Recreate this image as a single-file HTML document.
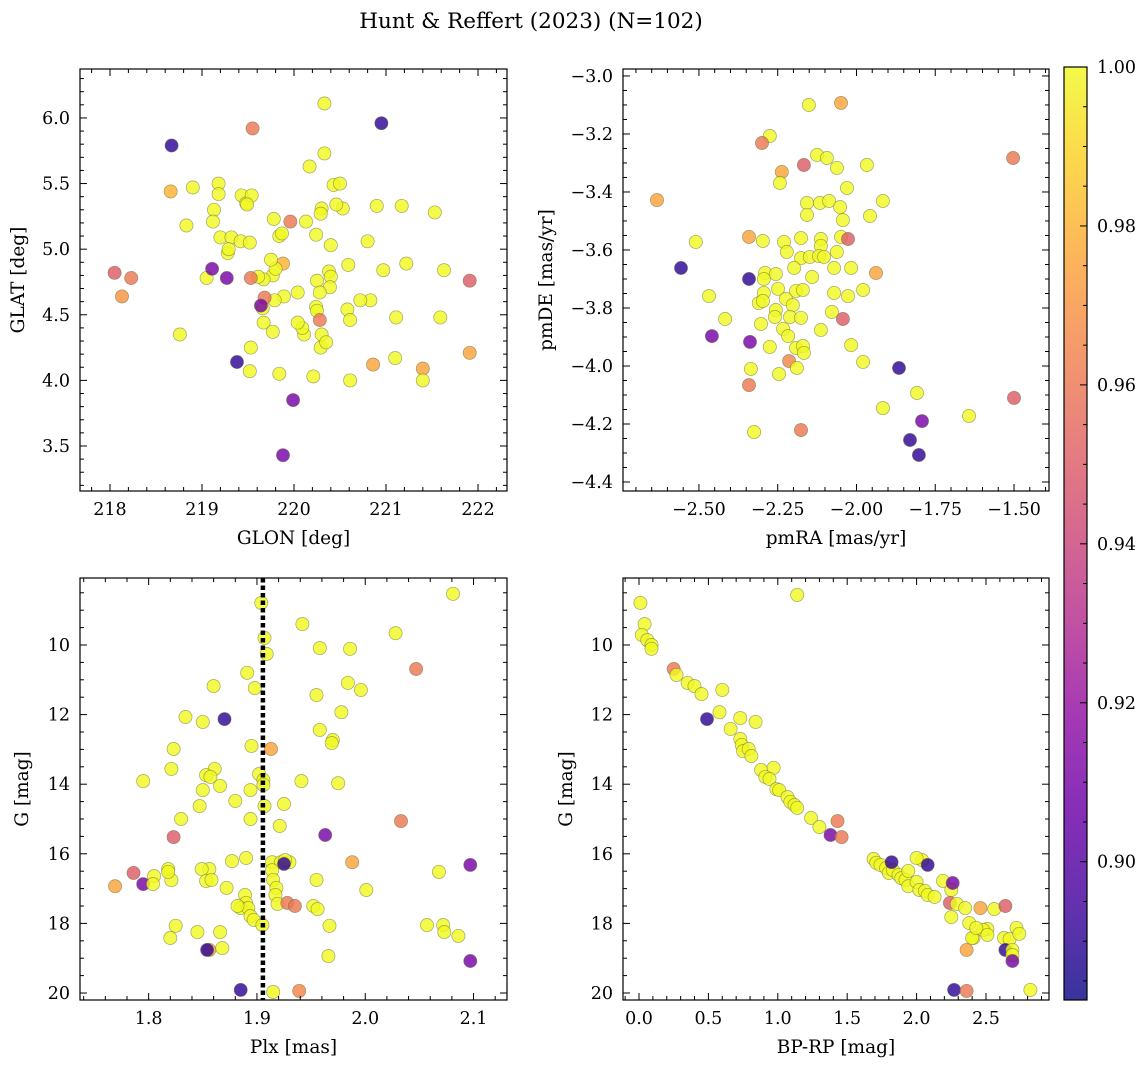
<!DOCTYPE html>
<html><head><meta charset="utf-8"><style>
html,body{margin:0;padding:0;background:#fff}
svg{display:block}
text{font-family:"DejaVu Serif","Liberation Serif",serif;fill:#000}
</style></head><body>
<svg id="chart" width="1148" height="1067" viewBox="0 0 1148 1067" xmlns="http://www.w3.org/2000/svg">
<defs>
<linearGradient id="cbgrad" x1="0" y1="1" x2="0" y2="0">
<stop offset="0" stop-color="#0d0887"/><stop offset="0.1" stop-color="#41049d"/><stop offset="0.2" stop-color="#6a00a8"/><stop offset="0.3" stop-color="#8f0da4"/><stop offset="0.4" stop-color="#b12a90"/><stop offset="0.5" stop-color="#cc4778"/><stop offset="0.6" stop-color="#e16462"/><stop offset="0.7" stop-color="#f2844b"/><stop offset="0.8" stop-color="#fca636"/><stop offset="0.9" stop-color="#fcce25"/><stop offset="1" stop-color="#f0f921"/>
</linearGradient>
</defs>
<text x="531" y="28" font-size="21.5" text-anchor="middle">Hunt &amp; Reffert (2023) (N=102)</text>
</svg>
<script>
// ---------- data ----------
const p1Lon=[218.67,219.55,220.95,220.33,218.66,218.90,218.83,219.13,219.18,219.18,219.12,219.20,219.32,219.43,219.48,219.54,219.49,219.42,219.52,219.28,219.78,219.84,219.87,219.88,219.96,220.17,220.33,220.43,220.50,220.53,220.46,220.30,220.29,220.13,220.24,220.40,220.59,220.80,220.90,221.17,220.97,221.22,221.53,221.63,221.91,221.91,221.40,221.40,221.59,221.11,221.10,220.86,220.61,220.21,220.83,220.72,220.58,220.61,220.38,220.40,220.25,220.39,220.28,220.24,220.25,220.28,220.30,220.29,220.35,220.11,220.09,220.04,220.04,219.89,219.77,219.80,219.75,219.67,219.61,219.53,219.66,219.67,219.77,219.79,219.68,219.64,219.53,219.52,219.84,219.38,219.05,219.11,219.27,219.29,218.76,218.05,218.23,218.13,219.99,219.88];
const p1Lat=[5.79,5.92,5.96,6.11,5.44,5.47,5.18,5.30,5.50,5.42,5.21,5.09,5.09,5.41,5.35,5.41,5.34,5.06,5.05,4.97,5.23,5.10,5.12,4.89,5.21,5.63,5.73,5.49,5.50,5.31,5.34,5.31,5.27,5.21,5.11,5.03,4.88,5.06,5.33,5.33,4.84,4.89,5.28,4.84,4.76,4.21,4.09,4.00,4.48,4.48,4.17,4.12,4.00,4.03,4.61,4.61,4.54,4.46,4.83,4.79,4.76,4.71,4.67,4.56,4.53,4.46,4.35,4.25,4.29,4.35,4.40,4.44,4.67,4.64,4.80,4.85,4.92,4.77,4.79,4.78,4.55,4.44,4.37,4.61,4.63,4.57,4.25,4.07,4.05,4.14,4.78,4.85,4.78,5.00,4.35,4.82,4.78,4.64,3.85,3.43];
const p1Prob=[.89,.96,.89,1,.98,1,1,1,1,1,1,1,1,1,1,1,1,1,1,1,1,1,1,.98,.96,1,1,1,1,1,1,1,1,1,1,1,1,1,1,1,1,1,1,1,.95,.975,.975,1,1,1,1,.975,1,1,1,1,1,1,1,1,1,1,1,1,1,.96,1,1,1,1,1,1,1,1,1,1,1,1,1,.96,1,1,1,1,.96,.91,1,1,1,.89,1,.91,.91,1,1,.95,.96,.97,.91,.91];

const p2PmRA=[-1.503,-1.500,-2.633,-2.510,-2.557,-2.468,-2.417,-2.459,-2.325,-2.176,-1.916,-1.830,-1.808,-1.802,-1.792,-1.643,-2.341,-2.341,-2.297,-2.230,-2.176,-2.113,-2.049,-2.027,-2.221,-2.113,-2.176,-2.148,-2.119,-2.103,-2.062,-2.198,-2.141,-2.071,-2.017,-1.938,-2.341,-2.290,-2.256,-2.294,-2.249,-2.192,-2.170,-2.071,-2.027,-1.979,-2.294,-2.310,-2.297,-2.224,-2.202,-2.256,-2.259,-2.211,-2.176,-2.078,-2.043,-2.303,-2.233,-2.217,-2.113,-2.338,-2.275,-2.192,-2.170,-2.167,-2.017,-1.979,-2.214,-2.189,-2.335,-2.246,-1.865,-2.151,-2.049,-2.275,-2.300,-2.125,-2.094,-2.167,-2.062,-1.967,-2.237,-2.243,-2.030,-2.157,-2.116,-2.087,-2.052,-1.916,-2.157,-2.043,-1.957];
const p2PmDE=[-3.283,-4.110,-3.428,-3.572,-3.662,-3.759,-3.838,-3.897,-4.228,-4.221,-4.145,-4.255,-4.093,-4.307,-4.190,-4.172,-4.066,-3.555,-3.569,-3.572,-3.559,-3.562,-3.555,-3.562,-3.607,-3.586,-3.628,-3.624,-3.621,-3.624,-3.607,-3.662,-3.693,-3.662,-3.662,-3.679,-3.700,-3.679,-3.683,-3.700,-3.734,-3.741,-3.738,-3.748,-3.759,-3.738,-3.748,-3.783,-3.776,-3.769,-3.790,-3.807,-3.831,-3.831,-3.834,-3.814,-3.838,-3.855,-3.872,-3.897,-3.876,-3.917,-3.934,-3.938,-3.931,-3.955,-3.928,-3.986,-3.983,-4.007,-4.010,-4.028,-4.007,-3.100,-3.093,-3.207,-3.231,-3.272,-3.283,-3.307,-3.317,-3.307,-3.331,-3.369,-3.386,-3.438,-3.438,-3.431,-3.452,-3.431,-3.479,-3.497,-3.483];
const p2Prob=[.96,.95,.975,1,.89,1,1,.91,1,.96,1,.89,1,.89,.91,1,.96,.975,1,1,1,1,1,.95,1,1,1,1,1,1,1,1,1,1,1,.975,.89,1,1,1,1,1,1,1,1,1,1,1,1,1,1,1,1,1,1,1,.95,1,1,1,1,.91,1,1,1,1,1,1,.965,1,1,1,.89,1,.975,1,.96,1,1,.95,1,1,.975,1,1,1,1,1,1,1,1,1,1];

const p3Plx=[2.081,1.904,1.907,1.909,1.942,2.028,1.986,1.958,2.047,1.891,1.898,1.860,1.984,1.996,1.955,1.834,1.850,1.978,1.958,1.970,1.969,1.870,1.913,1.895,1.795,1.823,1.821,1.861,1.853,1.857,1.902,1.906,1.906,1.866,1.850,1.941,1.975,1.880,1.894,1.907,1.847,1.925,1.830,1.894,1.823,1.921,1.963,2.033,1.890,1.877,1.856,1.849,1.853,1.858,1.872,1.818,1.821,1.805,1.818,1.786,1.795,1.804,1.769,1.914,1.922,1.930,1.926,1.925,1.914,1.915,1.918,1.917,1.919,1.928,1.935,1.955,1.952,1.988,2.001,2.068,2.097,1.889,1.890,1.885,1.892,1.894,1.897,1.882,1.905,1.967,1.956,1.825,1.820,1.845,1.866,1.868,1.856,1.854,1.966,2.057,2.072,2.073,2.086,2.097,1.885,1.939,1.915];
const p3G=[8.53,8.79,9.80,10.26,9.40,9.66,10.11,10.09,10.69,10.80,11.24,11.18,11.09,11.29,11.44,12.07,12.21,11.93,12.44,12.73,12.82,12.13,12.99,12.90,13.91,12.99,13.56,13.56,13.74,13.79,13.71,13.88,14.02,14.05,14.17,13.91,13.97,14.48,14.17,14.63,14.63,14.57,15.00,15.00,15.52,15.20,15.46,15.06,16.12,16.21,16.44,16.44,16.78,16.75,16.98,16.44,16.76,16.64,16.52,16.55,16.87,16.87,16.93,16.24,16.24,16.24,16.18,16.29,16.47,16.75,16.98,17.18,17.44,17.41,17.50,16.75,17.50,16.24,17.04,16.52,16.32,17.18,17.41,17.56,17.56,17.79,17.90,17.50,18.05,18.07,17.59,18.07,18.42,18.25,18.25,18.71,18.76,18.76,18.94,18.05,18.05,18.25,18.36,19.08,19.91,19.94,19.97];
const p3Prob=[1,1,1,1,1,1,1,1,.96,1,1,1,1,1,1,1,1,1,1,1,1,.89,.975,1,1,1,1,1,1,1,1,1,1,1,1,1,1,1,1,1,1,1,1,1,.95,1,.91,.96,1,1,1,1,1,1,1,1,1,1,1,.95,.91,1,.975,1,1,1,1,.89,1,1,1,1,1,.96,.96,1,1,.975,1,1,.91,1,1,1,1,1,1,1,1,1,1,1,1,1,1,1,.975,.89,1,1,1,1,1,.91,.89,.965,1];
const p3PlxRef=[1.9055];

const p4BpRp=[0.01,0.04,0.02,0.06,0.09,0.09,0.25,0.27,0.35,0.40,0.45,0.60,1.14,0.49,0.58,0.66,0.73,0.84,0.73,0.74,0.75,0.79,0.81,0.88,0.97,0.91,0.94,0.99,1.01,1.07,1.09,1.12,1.14,1.24,1.30,1.38,1.43,1.46,1.69,1.71,1.74,1.78,1.80,1.83,1.82,1.87,1.89,1.92,1.94,1.94,2.00,2.02,2.04,2.00,2.08,2.06,2.08,2.13,2.19,2.25,2.26,2.24,2.25,2.29,2.35,2.38,2.36,2.41,2.46,2.51,2.48,2.51,2.56,2.64,2.63,2.67,2.64,2.69,2.69,2.69,2.72,2.74,2.82,2.27,2.36,2.40,2.43];
const p4G=[8.79,9.40,9.71,9.86,10.00,10.11,10.69,10.86,11.09,11.18,11.41,11.29,8.56,12.13,11.93,12.41,12.10,12.21,12.70,12.87,13.05,12.99,13.19,13.59,13.53,13.79,13.85,14.14,14.17,14.37,14.51,14.60,14.68,14.97,15.23,15.46,15.06,15.52,16.15,16.26,16.32,16.41,16.55,16.47,16.24,16.61,16.70,16.75,16.49,16.93,16.81,17.04,16.18,16.12,16.32,17.07,17.18,17.24,16.78,17.04,16.84,17.41,17.82,17.44,17.56,17.99,18.76,18.42,17.56,18.16,18.19,18.33,17.59,17.50,18.42,18.45,18.76,18.76,18.91,19.08,18.13,18.30,19.91,19.91,19.94,18.42,18.13];
const p4Prob=[1,1,1,1,1,1,.96,1,1,1,1,1,1,.89,1,1,1,1,1,1,1,1,1,1,1,1,1,1,1,1,1,1,1,1,1,.91,.96,.96,1,1,1,1,1,1,.89,1,1,1,1,1,1,1,1,1,.89,1,1,1,1,1,.91,.95,1,1,1,1,.975,1,.975,1,1,1,1,.95,1,1,.89,1,1,.91,1,1,1,.89,.96,1,1];

const p1XTicks=[218,219,220,221,222], p1YTicks=[3.5,4.0,4.5,5.0,5.5,6.0];
const p2XTicks=[-2.50,-2.25,-2.00,-1.75,-1.50], p2YTicks=[-4.4,-4.2,-4.0,-3.8,-3.6,-3.4,-3.2,-3.0];
const p3XTicks=[1.8,1.9,2.0,2.1], gTicks=[10,12,14,16,18,20];
const p4XTicks=[0.0,0.5,1.0,1.5,2.0,2.5];
const cbTicks=[0.90,0.92,0.94,0.96,0.98,1.00];
const cbMin=0.8826, cbMax=1.0;

// ---------- helpers ----------
const NS='http://www.w3.org/2000/svg';
const svg=document.getElementById('chart');
function mk(tag,attrs,parent){const e=document.createElementNS(NS,tag);for(const k in attrs)e.setAttribute(k,attrs[k]);(parent||svg).appendChild(e);return e;}
const stops=[[13,8,135],[65,4,157],[106,0,168],[143,13,164],[177,42,144],[204,71,120],[225,100,98],[242,132,75],[252,166,54],[252,206,37],[240,249,33]];
function plasma(p){let t=(p-cbMin)/(cbMax-cbMin);t=Math.max(0,Math.min(1,t))*10;const i=Math.min(9,Math.floor(t)),f=t-i;const a=stops[i],b=stops[i+1];return 'rgb('+a.map((v,k)=>Math.round(v+(b[k]-v)*f)).join(',')+')';}
function fmt(v,d){return (v<0?'\u2212':'')+Math.abs(v).toFixed(d);}
const TICKFS=17.5, LABFS=18.5;

function panel(cfg){
  const g=mk('g',{});
  
  
  const {l,t,r,b}=cfg.box;
  const sx=v=>l+(v-cfg.xlim[0])/(cfg.xlim[1]-cfg.xlim[0])*(r-l);
  const sy=cfg.yinv?(v=>t+(v-cfg.ylim[0])/(cfg.ylim[1]-cfg.ylim[0])*(b-t)):(v=>b-(v-cfg.ylim[0])/(cfg.ylim[1]-cfg.ylim[0])*(b-t));
  for(let i=0;i<cfg.xs.length;i++){
    const c=mk('circle',{cx:sx(cfg.xs[i]).toFixed(1),cy:sy(cfg.ys[i]).toFixed(1),r:6.6,fill:plasma(cfg.ps[i]),'fill-opacity':0.82,stroke:'#6b6b3a','stroke-opacity':0.6,'stroke-width':0.7},g);
    
    
  }
  if(cfg.vline){
    const ln=mk('line',{x1:sx(cfg.vline),x2:sx(cfg.vline),y1:t,y2:b,stroke:'#000','stroke-width':4.5,'stroke-dasharray':'4.5 3'},g);
    
    
  }
  const fr=mk('rect',{x:l,y:t,width:r-l,height:b-t,fill:'none',stroke:'#000','stroke-width':1.2},g);
  
  
  const minorX=cfg.xminor, minorY=cfg.yminor;
  const x0=Math.ceil(cfg.xlim[0]/minorX-1e-6), x1=Math.floor(cfg.xlim[1]/minorX+1e-6);
  for(let k=x0;k<=x1;k++){const v=k*minorX,x=sx(v);const maj=cfg.xt.some(m=>Math.abs(m-v)<1e-6);const L=maj?7:4;
    mk('line',{x1:x,x2:x,y1:b,y2:b-L,stroke:'#000','stroke-width':1},g);mk('line',{x1:x,x2:x,y1:t,y2:t+L,stroke:'#000','stroke-width':1},g);}
  const ya=Math.min(cfg.ylim[0],cfg.ylim[1]),yb=Math.max(cfg.ylim[0],cfg.ylim[1]);
  const y0=Math.ceil(ya/minorY-1e-6), y1=Math.floor(yb/minorY+1e-6);
  for(let k=y0;k<=y1;k++){const v=k*minorY,y=sy(v);const maj=cfg.yt.some(m=>Math.abs(m-v)<1e-6);const L=maj?7:4;
    mk('line',{x1:l,x2:l+L,y1:y,y2:y,stroke:'#000','stroke-width':1},g);mk('line',{x1:r,x2:r-L,y1:y,y2:y,stroke:'#000','stroke-width':1},g);}
  cfg.xt.forEach(v=>{const tx=mk('text',{x:sx(v),y:b+24,'font-size':TICKFS,'text-anchor':'middle'},g);tx.textContent=fmt(v,cfg.xd);
    });
  cfg.yt.forEach(v=>{const tx=mk('text',{x:l-10,y:sy(v)+6,'font-size':TICKFS,'text-anchor':'end'},g);tx.textContent=fmt(v,cfg.yd);
    });
  const xl=mk('text',{x:(l+r)/2,y:b+53,'font-size':LABFS,'text-anchor':'middle'},g);xl.textContent=cfg.xlabel;
  
  const yx=cfg.ylx, yy=(t+b)/2;
  const yl=mk('text',{x:yx,y:yy,'font-size':LABFS,'text-anchor':'middle',transform:`rotate(-90 ${yx} ${yy})`},g);yl.textContent=cfg.ylabel;
  
}

panel({name:'glon-glat-panel',box:{l:80,t:69,r:507,b:491},xlim:[217.674,222.315],ylim:[3.157,6.373],xs:p1Lon,ys:p1Lat,ps:p1Prob,xt:p1XTicks,yt:p1YTicks,xminor:0.2,yminor:0.1,xd:0,yd:1,xlabel:'GLON [deg]',ylabel:'GLAT [deg]',ylx:24});
panel({name:'proper-motion-panel',box:{l:623,t:69,r:1049,b:491},xlim:[-2.741,-1.389],ylim:[-4.431,-2.976],xs:p2PmRA,ys:p2PmDE,ps:p2Prob,xt:p2XTicks,yt:p2YTicks,xminor:0.05,yminor:0.05,xd:2,yd:1,xlabel:'pmRA [mas/yr]',ylabel:'pmDE [mas/yr]',ylx:552});
panel({name:'parallax-magnitude-panel',box:{l:80,t:578,r:507,b:1000},xlim:[1.7366,2.1309],ylim:[8.075,20.201],yinv:true,xs:p3Plx,ys:p3G,ps:p3Prob,xt:p3XTicks,yt:gTicks,xminor:0.02,yminor:0.5,xd:1,yd:0,xlabel:'Plx [mas]',ylabel:'G [mag]',ylx:28,vline:p3PlxRef[0]});
panel({name:'color-magnitude-panel',box:{l:623,t:578,r:1049,b:1000},xlim:[-0.1153,2.954],ylim:[8.075,20.201],yinv:true,xs:p4BpRp,ys:p4G,ps:p4Prob,xt:p4XTicks,yt:gTicks,xminor:0.1,yminor:0.5,xd:1,yd:0,xlabel:'BP-RP [mag]',ylabel:'G [mag]',ylx:572});

const cb=mk('g',{});


const cT=67,cB=1000,cL=1064,cR=1087;
mk('rect',{x:cL,y:cT,width:cR-cL,height:cB-cT,fill:'url(#cbgrad)','fill-opacity':0.82},cb);
mk('rect',{x:cL,y:cT,width:cR-cL,height:cB-cT,fill:'none',stroke:'#000','stroke-width':1.2},cb);
const cy=v=>cB-(v-cbMin)/(cbMax-cbMin)*(cB-cT);
for(let k=Math.ceil(cbMin/0.005);k<=200;k++){const v=k*0.005,y=cy(v);const maj=cbTicks.some(m=>Math.abs(m-v)<1e-6);
  mk('line',{x1:cR,x2:cR-(maj?7:4),y1:y,y2:y,stroke:'#000','stroke-width':1},cb);}
cbTicks.forEach(v=>{const tx=mk('text',{x:cR+10,y:cy(v)+6,'font-size':TICKFS},cb);tx.textContent=v.toFixed(2);
  });
</script>
</body></html>
